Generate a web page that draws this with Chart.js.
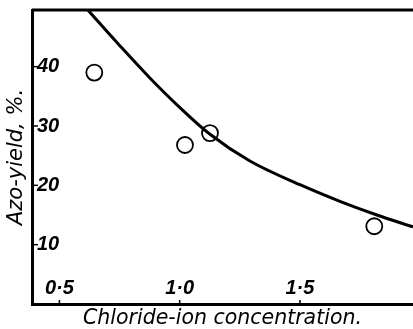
<!DOCTYPE html>
<html>
<head>
<meta charset="utf-8">
<script src="https://cdn.jsdelivr.net/npm/chart.js@4/dist/chart.umd.min.js"></script>
<style>
    html, body { margin: 0; padding: 0; background: #fff; overflow: hidden; }
</style>
</head>
<body>
<canvas id="chart" width="413" height="329"></canvas>
<script>
// === Data ===
const yieldX = [0.645, 1.022, 1.126, 1.809];
const yieldY = [39.0, 26.8, 28.8, 13.1];
const curveX = [0.618, 0.752, 0.876, 1.001, 1.126, 1.292, 1.5, 1.666, 1.82, 1.97];
const curveY = [49.55, 43.5, 38.1, 33.1, 28.6, 24.1, 20.1, 17.3, 15.0, 13.0];
const xTicks = [0.5, 1.0, 1.5];
const yTicks = [10, 20, 30, 40];
const xTitle = "Chloride-ion concentration.";
const yTitle = "Azo-yield, %.";

const tickFont = { family: "Liberation Sans", size: 20, style: "italic", weight: "bold" };
const xTitleFont = { family: "DejaVu Sans", size: 20.5, style: "italic" };
const yTitleFont = { family: "DejaVu Sans", size: 21, style: "italic" };

// === Frame: top rule and inward tick marks ===
const framePlugin = {
    id: "frame",
    afterDraw(chart) {
        const { ctx, chartArea, scales } = chart;
        ctx.save();
        ctx.strokeStyle = "#000";
        ctx.lineWidth = 3;
        ctx.beginPath();
        ctx.moveTo(chartArea.left, chartArea.top);
        ctx.lineTo(chartArea.right, chartArea.top);
        ctx.stroke();

        ctx.lineWidth = 1.5;
        yTicks.forEach((v) => {
            const y = scales.y.getPixelForValue(v);
            ctx.beginPath();
            ctx.moveTo(chartArea.left, y);
            ctx.lineTo(chartArea.left + 6, y);
            ctx.stroke();
        });
        xTicks.forEach((v) => {
            const x = scales.x.getPixelForValue(v);
            ctx.beginPath();
            ctx.moveTo(x, chartArea.bottom);
            ctx.lineTo(x, chartArea.bottom - 4);
            ctx.stroke();
        });
        ctx.restore();
    },
};

const ctx = document.getElementById("chart").getContext("2d");
new Chart(ctx, {
    type: "scatter",
    data: {
        datasets: [
            {
                label: "measured",
                data: yieldX.map((x, i) => ({ x, y: yieldY[i] })),
                pointStyle: "circle",
                pointRadius: 8,
                pointBorderWidth: 1.8,
                pointBorderColor: "#000",
                pointBackgroundColor: "rgba(0,0,0,0)",
                showLine: false,
            },
            {
                label: "curve",
                data: curveX.map((x, i) => ({ x, y: curveY[i] })),
                showLine: true,
                borderColor: "#000",
                borderWidth: 3,
                pointRadius: 0,
                cubicInterpolationMode: "monotone",
            },
        ],
    },
    options: {
        responsive: false,
        animation: false,
        devicePixelRatio: 1,
        layout: { autoPadding: false, padding: { top: 10, right: 0, bottom: 0, left: 0 } },
        plugins: {
            legend: { display: false },
            tooltip: { enabled: false },
        },
        scales: {
            x: {
                type: "linear",
                position: "bottom",
                min: 0.386,
                max: 1.97,
                grid: { display: false, drawTicks: false },
                border: { display: true, color: "#000", width: 3 },
                afterBuildTicks: (axis) => {
                    axis.ticks = xTicks.map((v) => ({ value: v }));
                },
                afterFit: (axis) => {
                    axis.height = 25;
                    axis.paddingLeft = 0;
                    axis.paddingRight = 0;
                },
                ticks: {
                    mirror: true,
                    padding: 3.5,
                    color: "#000",
                    font: tickFont,
                    maxRotation: 0,
                    callback: (v) => v.toFixed(1).replace(".", "·"),
                },
                title: {
                    display: true,
                    text: xTitle,
                    color: "#000",
                    font: xTitleFont,
                    padding: { top: 0, bottom: -2 },
                },
            },
            y: {
                type: "linear",
                min: 0,
                max: 49.55,
                grid: { display: false, drawTicks: false },
                border: { display: true, color: "#000", width: 3 },
                afterBuildTicks: (axis) => {
                    axis.ticks = yTicks.map((v) => ({ value: v }));
                },
                afterFit: (axis) => {
                    axis.width = 32;
                    axis.paddingTop = 0;
                    axis.paddingBottom = 0;
                },
                ticks: {
                    mirror: true,
                    padding: 5,
                    color: "#000",
                    font: tickFont,
                    callback: (v) => String(v),
                },
                title: {
                    display: true,
                    text: yTitle,
                    color: "#000",
                    font: yTitleFont,
                    padding: { top: 4, bottom: 0 },
                },
            },
        },
    },
    plugins: [framePlugin],
});
</script>
</body>
</html>
